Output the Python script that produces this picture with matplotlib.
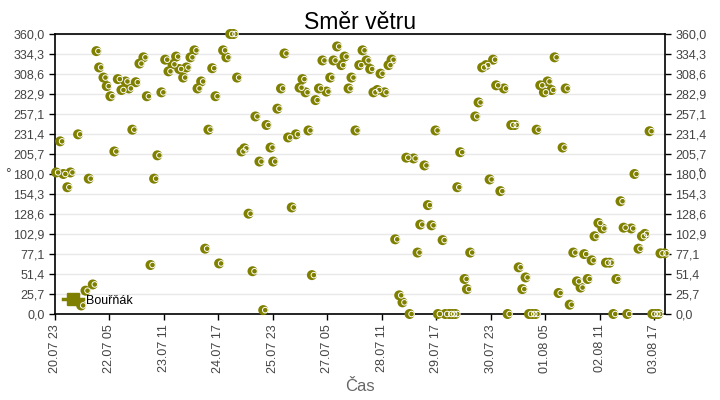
import numpy as np
import matplotlib
matplotlib.use("Agg")
import matplotlib.pyplot as plt
import matplotlib.transforms as mtransforms
from matplotlib.lines import Line2D
from datetime import datetime, timedelta

plt.rcParams['font.family'] = ['Liberation Sans', 'DejaVu Sans']

# hours since 20.07 23:00 and wind direction in degrees
hours = [0.6, 2.8, 4.6, 6.8, 8.5, 12.7, 14.4, 16.8, 18.6, 20.8, 22.8, 24.3, 26.7, 28.5, 30.5,
         32.7, 34.6, 36.6, 38.8, 40.7, 42.6, 44.5, 46.5, 48.7, 50.6, 52.6, 54.6, 56.4, 58.6,
         60.7, 62.5, 64.7, 66.7, 68.4, 70.6, 72.4, 74.6, 76.8, 78.5, 80.5, 82.7, 84.5, 86.6,
         88.4, 90.4, 92.6, 94.4, 96.5, 98.3, 100.3, 102.7, 104.3, 106.6, 108.8, 110.4, 112.6,
         114.7, 116.5, 118.7, 120.2, 122.5, 124.5, 126.4, 128.4, 130.4, 132.7, 134.7, 136.3,
         138.0, 139.6, 141.5, 143.5, 145.4, 147.3, 149.5, 151.6, 153.4, 155.4, 157.7, 159.5,
         161.7, 163.3, 165.5, 167.6, 169.4, 171.6, 173.6, 175.4, 177.5, 179.3, 181.5, 183.7,
         185.4, 187.4, 189.6, 191.4, 193.5, 195.3, 197.5, 199.7, 201.2, 203.5, 205.4, 207.4,
         209.6, 210.9, 213.5, 214.9, 217.2, 218.8, 220.5, 221.6, 223.2, 225.6, 226.9, 228.7,
         231.5, 233.3, 235.3, 237.4, 239.4, 241.3, 243.0, 245.3, 247.3, 249.3, 251.3, 253.2,
         255.4, 257.4, 259.2, 261.1, 262.9, 264.7, 265.3, 267.3, 269.3, 271.3, 273.4, 275.2,
         277.4, 279.6, 281.3, 283.5, 285.5, 287.5, 289.5, 291.5, 293.4, 295.6, 297.2, 299.3,
         301.5, 303.5, 305.5, 307.5, 309.2, 311.5, 313.2, 315.2, 317.4, 319.2, 321.4, 323.3,
         324.9, 327.5, 329.0, 330.7, 332.3, 333.5, 335.7]
direction = [182, 222, 180, 163, 182, 231, 11, 30, 174, 38, 338, 317, 304, 293, 280,
             209, 302, 288, 299, 290, 237, 298, 322, 330, 280, 63, 174, 204, 285,
             327, 312, 321, 331, 315, 304, 317, 330, 339, 290, 299, 84, 237, 316,
             280, 65, 339, 330, 360, 360, 304, 209, 213, 129, 55, 254, 196,
             5, 243, 214, 196, 264, 290, 335, 227, 137, 231, 291, 302,
             285, 236, 50, 275, 290, 326, 286, 304, 326, 344, 320, 331,
             290, 304, 236, 320, 339, 326, 315, 285, 288, 309, 285, 320,
             327, 96, 24, 15, 201, 0, 200, 79, 115, 191, 140, 114,
             236, 0, 95, 0, 0, 0, 0, 163, 208, 45, 32, 79,
             254, 272, 317, 320, 173, 327, 294, 158, 290, 0, 243, 243,
             60, 32, 47, 0, 0, 0, 237, 294, 285, 299, 288, 330,
             27, 214, 290, 12, 79, 42, 34, 77, 45, 69, 100, 117,
             110, 66, 66, 0, 45, 145, 111, 0, 110, 180, 84, 100,
             103, 235, 0, 0, 0, 78, 78]

start = datetime(2023, 7, 20, 23)
tick_hours = list(range(0, 331, 30))
tick_labels = [(start + timedelta(hours=h)).strftime('%d.%m %H') for h in tick_hours]
y_ticks = np.linspace(0, 360, 15)

olive = '#808000'

fig = plt.figure(figsize=(7.2, 4.0), dpi=100)
ax = fig.add_axes([55 / 720, 86 / 400, 610 / 720, 280 / 400])

ax.scatter(hours, direction, s=52, color=olive, edgecolors='none', zorder=3, clip_on=False)
# thin white highlight arc, shifted right
shift = mtransforms.offset_copy(ax.transData, fig=fig, x=2.0, y=0, units='dots')
ax.scatter(hours, direction, s=16, facecolors='none', edgecolors='white', linewidths=0.7,
           transform=shift, zorder=4, clip_on=False)

ax.set_xlim(0, 336)
ax.set_ylim(0, 360)
ax.set_xticks(tick_hours)
ax.set_xticklabels(tick_labels, rotation=90, fontsize=9, color='#444444')
ax.set_yticks(y_ticks)
ylabels = [f"{v:.1f}".replace('.', ',') for v in y_ticks]
ax.set_yticklabels(ylabels, fontsize=9, color='#444444')
ax.grid(axis='y', color='#e8e8e8', linewidth=1)
ax.set_axisbelow(True)
ax.tick_params(axis='both', direction='out', length=4, width=1, color='black')
ax.tick_params(axis='y', right=True, labelright=True)
for sp in ax.spines.values():
    sp.set_color('black')
    sp.set_linewidth(1.2)

ax.set_title('Směr větru', fontsize=16.5, pad=3)
ax.set_xlabel('Čas', fontsize=12, color='#666666', labelpad=4)
fig.text(0.011, 0.565, '°', fontsize=10, color='#444444', ha='center', va='center')
fig.text(0.972, 0.565, '°', fontsize=10, color='#444444', ha='center', va='center')

handle = Line2D([0], [0], color=olive, marker='s', markersize=9, linewidth=2.5)
ax.legend([handle], ['Bouřňák'], loc='lower left', frameon=False, fontsize=9,
          handlelength=1.6, handletextpad=0.3, borderaxespad=0.2)

fig.savefig('out.png', dpi=100)
